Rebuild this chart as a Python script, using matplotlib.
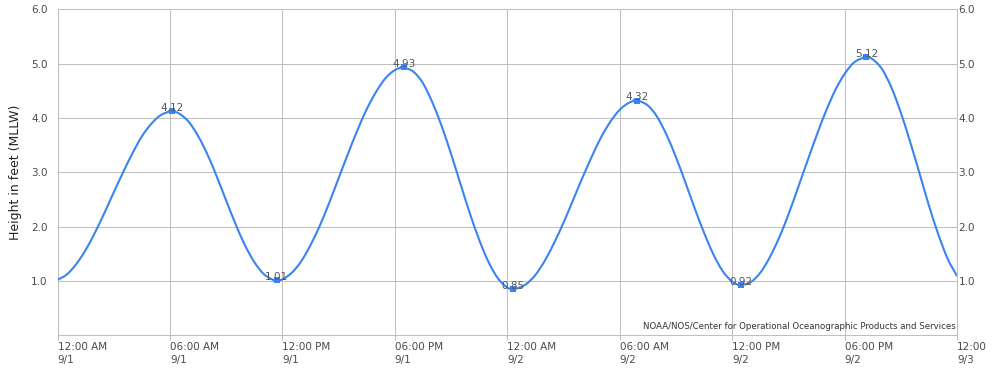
import matplotlib
matplotlib.use("Agg")
import matplotlib.pyplot as plt
from matplotlib.path import Path
from matplotlib.patches import PathPatch
from matplotlib.transforms import ScaledTranslation

# ---- data (hours after 9/1 12:00 AM, heights in feet MLLW) ----
sample_hours = [h / 2 for h in range(97)]
sample_heights = [
    1.02, 1.12, 1.31, 1.57, 1.89, 2.25, 2.63, 3.00, 3.35, 3.66, 3.89, 4.05,
    4.12, 4.08, 3.93, 3.67, 3.33, 2.92, 2.48, 2.05, 1.66, 1.35, 1.13, 1.02,
    1.03, 1.15, 1.36, 1.66, 2.02, 2.44, 2.89, 3.34, 3.77, 4.16, 4.48, 4.73,
    4.88, 4.93, 4.85, 4.64, 4.29, 3.85, 3.34, 2.79, 2.25, 1.76, 1.35, 1.05,
    0.88, 0.86, 0.94, 1.11, 1.37, 1.70, 2.07, 2.48, 2.89, 3.28, 3.64, 3.93,
    4.15, 4.28, 4.32, 4.23, 4.02, 3.69, 3.28, 2.82, 2.34, 1.89, 1.49, 1.18,
    0.99, 0.92, 0.98, 1.15, 1.43, 1.79, 2.22, 2.70, 3.19, 3.67, 4.12, 4.51,
    4.81, 5.02, 5.11, 5.08, 4.90, 4.56, 4.10, 3.56, 2.98, 2.39, 1.86, 1.41,
    1.09,
]
extreme_hours = [6.12, 11.69, 18.49, 24.33, 30.93, 36.49, 43.17]
extreme_heights = [4.12, 1.01, 4.93, 0.85, 4.32, 0.92, 5.12]

x_tick_hours = [0, 6, 12, 18, 24, 30, 36, 42, 48]
x_tick_labels = ["12:00 AM\n9/1", "06:00 AM\n9/1", "12:00 PM\n9/1", "06:00 PM\n9/1",
                 "12:00 AM\n9/2", "06:00 AM\n9/2", "12:00 PM\n9/2", "06:00 PM\n9/2",
                 "12:00\n9/3"]
y_ticks = [1.0, 2.0, 3.0, 4.0, 5.0, 6.0]
y_label = "Height in feet (MLLW)"
credit = "NOAA/NOS/Center for Operational Oceanographic Products and Services"

# ---- style ----
LINE = "#3b84f0"
GRID = "#c0c0c0"
TXT = "#4a4a4a"

plt.rcParams["font.family"] = ["DejaVu Sans"]

fig = plt.figure(figsize=(9.94, 3.69), dpi=100)
ax = fig.add_axes([57.5 / 994, 33.7 / 369, (957 - 57.5) / 994, (335.3 - 9.3) / 369])

# merge extremes into the curve so the line passes through the markers,
# then draw it as a smooth (cubic Hermite / Bezier) path through the points
pts = sorted(zip(sample_hours + extreme_hours, sample_heights + extreme_heights))
xs = [p[0] for p in pts]
ys = [p[1] for p in pts]
ext = set(zip(extreme_hours, extreme_heights))
n = len(xs)
slopes = []
for i in range(n):
    if (xs[i], ys[i]) in ext:
        slopes.append(0.0)
    elif i == 0:
        slopes.append((ys[1] - ys[0]) / (xs[1] - xs[0]))
    elif i == n - 1:
        slopes.append((ys[-1] - ys[-2]) / (xs[-1] - xs[-2]))
    else:
        slopes.append((ys[i + 1] - ys[i - 1]) / (xs[i + 1] - xs[i - 1]))
verts = [(xs[0], ys[0])]
codes = [Path.MOVETO]
for i in range(n - 1):
    dx = (xs[i + 1] - xs[i]) / 3.0
    verts += [(xs[i] + dx, ys[i] + slopes[i] * dx),
              (xs[i + 1] - dx, ys[i + 1] - slopes[i + 1] * dx),
              (xs[i + 1], ys[i + 1])]
    codes += [Path.CURVE4] * 3
ax.add_patch(PathPatch(Path(verts, codes), facecolor="none", edgecolor=LINE,
                       lw=1.5, zorder=3))

ax.plot(extreme_hours, extreme_heights, linestyle="none", marker="s", ms=4.8,
        mew=0, color=LINE, zorder=4)
for t, v in zip(extreme_hours, extreme_heights):
    ax.annotate(f"{v:.2f}", (t, v), xytext=(0, 0.3), textcoords="offset points",
                ha="center", va="baseline", fontsize=7.5, color="#555555", zorder=5)

ax.set_xlim(0, 48)
ax.set_ylim(0, 6)

ax.set_xticks(x_tick_hours)
ax.set_xticklabels(x_tick_labels, ha="left", fontsize=7.5, color=TXT, linespacing=1.35)
offset = ScaledTranslation(4.5 / 100, 0, fig.dpi_scale_trans)
for lab in ax.get_xticklabels():
    lab.set_transform(lab.get_transform() + offset)
ax.tick_params(axis="x", length=3.6, width=0.75, color=GRID, pad=1.4)

ax.set_yticks(y_ticks)
ax.set_yticklabels([f"{v:.1f}" for v in y_ticks], fontsize=7.5, color=TXT)
ax.tick_params(axis="y", length=0, pad=7)

ax.grid(True, color=GRID, lw=0.75)
ax.set_axisbelow(True)
for s in ax.spines.values():
    s.set_color(GRID)
    s.set_linewidth(0.75)
ax.spines["top"].set_visible(False)

ax2 = ax.twinx()
ax2.set_ylim(0, 6)
ax2.set_yticks(y_ticks)
ax2.set_yticklabels([f"{v:.1f}" for v in y_ticks], fontsize=7.5, color=TXT)
ax2.tick_params(axis="y", length=0, pad=1)
for s in ax2.spines.values():
    s.set_visible(False)

ax.set_ylabel(y_label, fontsize=9, color="#222222")
ax.yaxis.set_label_coords(-35.5 / 899.5, 0.5)

ax.text(0.999, 0.026, credit, transform=ax.transAxes, ha="right", va="center",
        fontsize=6.25, color="#333333")

fig.savefig("out.png", dpi=100)
